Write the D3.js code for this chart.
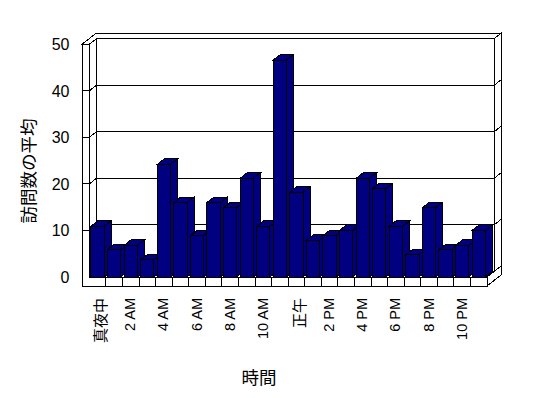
<!DOCTYPE html>
<html>
<head>
<meta charset="utf-8">
<script src="https://cdn.jsdelivr.net/npm/d3@7"></script>
<style>
  body { margin: 0; background: #fff; }
  svg { display: block; }
  text { fill: #000; }
  .lat { font-family: "Liberation Sans", Arial, sans-serif; }
  .cjk { font-family: "Noto Sans CJK JP", sans-serif; }
</style>
</head>
<body>
<svg id="chart" width="548" height="398"></svg>
<script>
var categories = ["真夜中", "1 AM", "2 AM", "3 AM", "4 AM", "5 AM", "6 AM", "7 AM",
  "8 AM", "9 AM", "10 AM", "11 AM", "正午", "1 PM", "2 PM", "3 PM", "4 PM", "5 PM",
  "6 PM", "7 PM", "8 PM", "9 PM", "10 PM", "11 PM"];
var visits = [10.9, 5.9, 6.8, 3.7, 24.2, 16.0, 8.9, 16.0, 14.9, 21.2, 10.9, 46.6,
  18.2, 7.9, 8.9, 10.0, 21.2, 19.0, 10.9, 4.8, 14.9, 5.9, 6.8, 10.0];
var yTicks = [0, 10, 20, 30, 40, 50];
var yTitle = "訪問数の平均";
var xTitle = "時間";

var svg = d3.select("#chart"),
  x0 = 89.3, x1 = 487,
  wall = 7.3,          // left wall thickness
  floorH = 9,          // floor slab thickness
  D = { x: 7, y: -5.5 };  // depth offset of the back plane

var x = d3.scaleBand()
  .domain(categories)
  .range([x0, x1])
  .paddingInner(0.2)
  .paddingOuter(0.1);

var y = d3.scaleLinear()
  .domain([0, 50])
  .range([277, 44.3]);

var step = x.step();

function pts(a) { return a.map(function (p) { return p[0] + "," + p[1]; }).join(" "); }

var g = svg.append("g")
  .attr("fill", "#fff")
  .attr("stroke", "#000")
  .attr("stroke-width", 1)
  .attr("shape-rendering", "crispEdges");

var yTop = y(50), yBase = y(0);

// back wall inner face
g.append("polygon").attr("points", pts([
  [x0 + D.x, yTop + D.y], [x1 + D.x, yTop + D.y], [x1 + D.x, yBase + D.y], [x0 + D.x, yBase + D.y]]));

// wall tops
g.append("polygon").attr("points", pts([
  [x0 - wall, yTop], [x0, yTop], [x0 + D.x, yTop + D.y], [x1 + D.x, yTop + D.y],
  [x1 + 2 * D.x, yTop + 2 * D.y], [x0 - wall + 2 * D.x, yTop + 2 * D.y]]));

// floor right face
g.append("polygon").attr("points", pts([
  [x1, yBase], [x1, yBase + floorH], [x1 + 2 * D.x, yBase + floorH + 2 * D.y], [x1 + 2 * D.x, yBase + 2 * D.y]]));

// back wall right face
g.append("polygon").attr("points", pts([
  [x1 + D.x, yTop + D.y], [x1 + 2 * D.x, yTop + 2 * D.y], [x1 + 2 * D.x, yBase + 2 * D.y], [x1 + D.x, yBase + D.y]]));

// left wall inner face
g.append("polygon").attr("points", pts([
  [x0, yTop], [x0 + D.x, yTop + D.y], [x0 + D.x, yBase + D.y], [x0, yBase]]));

// floor top
g.append("polygon").attr("points", pts([
  [x0, yBase], [x1, yBase], [x1 + D.x, yBase + D.y], [x0 + D.x, yBase + D.y]]));

// left wall + floor front faces (L shape)
g.append("polygon").attr("points", pts([
  [x0 - wall, yTop], [x0, yTop], [x0, yBase], [x1, yBase], [x1, yBase + floorH], [x0 - wall, yBase + floorH]]));

// gridlines
var grid = yTicks.filter(function (d) { return d > 0 && d < 50; });
var gl = g.append("g").attr("fill", "none");
gl.selectAll("path.grid")
  .data(grid)
  .enter().append("path")
  .attr("d", function (d) {
    var yy = y(d);
    return "M" + (x0 - wall) + "," + yy + "L" + x0 + "," + yy +
      "L" + (x0 + D.x) + "," + (yy + D.y) + "L" + (x1 + D.x) + "," + (yy + D.y) +
      "L" + (x1 + 2 * D.x) + "," + (yy + 2 * D.y);
  });

// category dividers on floor front face
gl.selectAll("line.div")
  .data(d3.range(1, categories.length))
  .enter().append("line")
  .attr("x1", function (i) { return x0 + i * step; })
  .attr("x2", function (i) { return x0 + i * step; })
  .attr("y1", yBase)
  .attr("y2", yBase + floorH);

// bars
var bars = g.append("g").attr("fill", "#000080");
categories.forEach(function (c, i) {
  var xl = x(c), xr = x(c) + x.bandwidth(), yt = y(visits[i]);
  var b = bars.append("g");
  b.append("polygon").attr("points", pts([
    [xr, yBase], [xr, yt], [xr + D.x, yt + D.y], [xr + D.x, yBase + D.y]]));
  b.append("polygon").attr("points", pts([
    [xl, yt], [xr, yt], [xr + D.x, yt + D.y], [xl + D.x, yt + D.y]]));
  b.append("rect")
    .attr("x", xl).attr("y", yt)
    .attr("width", xr - xl).attr("height", yBase - yt);
});

// y tick labels
svg.append("g").selectAll("text")
  .data(yTicks)
  .enter().append("text")
  .attr("class", "lat")
  .attr("x", 69.5)
  .attr("y", function (d) { return y(d); })
  .attr("dy", "0.36em")
  .attr("text-anchor", "end")
  .attr("font-size", 16)
  .text(function (d) { return d; });

// x tick labels (every other hour)
svg.append("g")
  .style("opacity", 0.999)
  .selectAll("text")
  .data(categories.filter(function (d, i) { return i % 2 === 0; }))
  .enter().append("text")
  .attr("class", function (d) { return /[A-Z]/.test(d) ? "lat" : "cjk"; })
  .attr("font-size", function (d) { return /[A-Z]/.test(d) ? 14.5 : 15; })
  .attr("text-anchor", "end")
  .attr("dy", "0.35em")
  .attr("transform", function (d) {
    var cx = x(d) + x.bandwidth() / 2 + (/[A-Z]/.test(d) ? -0.5 : 3.5);
    return "translate(" + cx + ",298)rotate(-90)";
  })
  .text(function (d) { return d; });

// axis titles
svg.append("text")
  .attr("class", "cjk")
  .attr("font-size", 17.5)
  .attr("text-anchor", "middle")
  .attr("dy", "0.35em")
  .attr("transform", "translate(29,171)rotate(-90)")
  .text(yTitle);

svg.append("text")
  .attr("class", "cjk")
  .attr("font-size", 17.5)
  .attr("text-anchor", "middle")
  .attr("x", 259)
  .attr("y", 378)
  .attr("dy", "0.35em")
  .text(xTitle);
</script>
</body>
</html>
